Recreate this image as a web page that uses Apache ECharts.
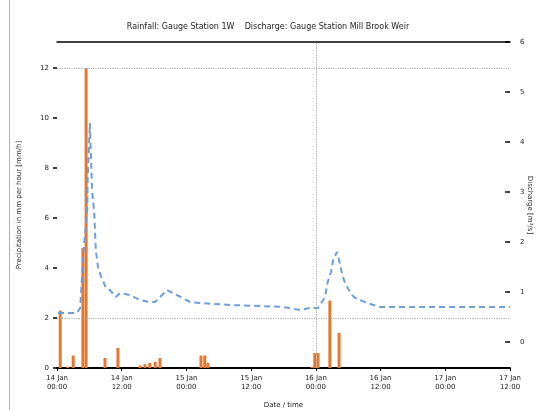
<!DOCTYPE html>
<html>
<head>
<meta charset="utf-8">
<script src="https://cdn.jsdelivr.net/npm/echarts@6/dist/echarts.min.js"></script>
<style>
  html, body { margin: 0; padding: 0; background: #fff; }
  #chart { width: 536px; height: 410px; }
</style>
</head>
<body>
<div id="chart"></div>
<script>
// x values are hours from the start of the record
const tickLabels = ['14 Jan\n00:00', '14 Jan\n12:00', '15 Jan\n00:00', '15 Jan\n12:00',
  '16 Jan\n00:00', '16 Jan\n12:00', '17 Jan\n00:00', '17 Jan\n12:00'];

// rainfall [hour, mm]
const rainHours = [0.6, 2.0, 3.0, 4.8, 5.4, 8.9, 11.3, 15.4, 16.3, 17.2, 18.2, 19.1, 26.7, 27.4, 28.0, 47.3, 47.8, 48.4, 50.6, 52.3];
const rainValues = [2.3, 0.05, 0.5, 4.8, 12.0, 0.4, 0.8, 0.1, 0.15, 0.2, 0.25, 0.4, 0.5, 0.5, 0.2, 0.05, 0.6, 0.6, 2.7, 1.4];

// discharge [hour, m3/s]
const flowHours = [0.2, 0.8, 3.7, 4.3, 4.6, 5.0, 5.6, 5.7, 6.1, 6.5, 6.9, 7.2, 7.6, 8.2, 9.1, 9.8, 10.9, 11.7, 13.5, 15.4,
  17.2, 18.2, 19.1, 20.4, 22.2, 24.7, 26.5, 32.1, 37.6, 42.0, 45.1, 46.9, 48.4, 49.7, 50.2, 50.8, 51.2, 51.9, 52.3,
  52.8, 53.2, 53.9, 54.7, 55.3, 56.2, 57.5, 59.9, 67.3, 74.7, 84.0];
const flowValues = [0.58, 0.58, 0.58, 0.68, 1.24, 1.9, 2.64, 3.3, 4.38, 3.04, 2.58, 1.84, 1.5, 1.3, 1.08, 1.04, 0.9, 0.98, 0.94, 0.84,
  0.8, 0.8, 0.9, 1.04, 0.94, 0.8, 0.78, 0.74, 0.72, 0.7, 0.64, 0.68, 0.68, 0.9, 1.2, 1.4, 1.64, 1.8, 1.64,
  1.4, 1.24, 1.08, 0.94, 0.88, 0.84, 0.78, 0.7, 0.7, 0.7, 0.7];

const rightTicks = [0, 1, 2, 3, 4, 5, 6];

const chart = echarts.init(document.getElementById('chart'));
const smallFont = { fontFamily: 'DejaVu Sans', fontSize: 7, color: '#222' };

chart.setOption({
  animation: false,
  backgroundColor: '#fff',
  title: {
    text: 'Rainfall: Gauge Station 1W    Discharge: Gauge Station Mill Brook Weir',
    left: 'center',
    top: 18,
    textStyle: { fontFamily: 'DejaVu Sans', fontSize: 8, fontWeight: 'normal', color: '#222' }
  },
  graphic: [{
    type: 'line',
    shape: { x1: 9.5, y1: 0, x2: 9.5, y2: 410 },
    style: { stroke: '#9db5d8', lineWidth: 1 }
  }, {
    // right axis title
    type: 'text',
    x: 530,
    y: 205,
    rotation: -Math.PI / 2,
    style: {
      text: 'Discharge [m³/s]',
      fontFamily: 'DejaVu Sans',
      fontSize: 7,
      fill: '#222',
      align: 'center',
      verticalAlign: 'middle'
    }
  }],
  grid: { left: 57, right: 26, top: 42, bottom: 42, outerBoundsMode: 'none', containLabel: false },
  xAxis: [{
    type: 'value',
    min: 0,
    max: 84,
    interval: 12,
    name: 'Date / time',
    nameLocation: 'middle',
    nameGap: 34,
    nameTextStyle: smallFont,
    axisLine: { lineStyle: { color: '#000', width: 2 } },
    axisTick: { show: true, length: 3, lineStyle: { color: '#000' } },
    axisLabel: Object.assign({}, smallFont, {
      lineHeight: 9,
      margin: 6,
      formatter: v => tickLabels[Math.round(v / 12)] || ''
    }),
    splitLine: { show: false }
  }, {
    type: 'value',
    position: 'top',
    min: 0,
    max: 84,
    axisLine: { show: true, onZero: false, lineStyle: { color: '#000', width: 1.5 } },
    axisTick: { show: false },
    axisLabel: { show: false },
    splitLine: { show: false }
  }],
  yAxis: [{
    type: 'value',
    min: 0,
    max: 13.04,
    interval: 2,
    name: 'Precipitation in mm per hour [mm/h]',
    nameLocation: 'middle',
    nameGap: 34,
    nameTextStyle: smallFont,
    axisLine: { show: false },
    axisTick: { show: true, length: 4, lineStyle: { color: '#000', width: 1.5 } },
    axisLabel: Object.assign({}, smallFont, { margin: 8, showMaxLabel: false }),
    splitLine: { show: false }
  }, {
    type: 'value',
    min: -0.52,
    max: 6,
    position: 'right',
    axisLine: { show: false },
    axisTick: { show: false },
    axisLabel: Object.assign({}, smallFont, { customValues: rightTicks, margin: 10 }),
    splitLine: { show: false }
  }],
  series: [{
    name: 'Rainfall',
    type: 'bar',
    yAxisIndex: 0,
    barWidth: 3,
    itemStyle: { color: '#e8772e' },
    data: rainHours.map((h, i) => [h, rainValues[i]]),
    markLine: {
      silent: true,
      symbol: 'none',
      label: { show: false },
      lineStyle: { color: '#aaa', type: 'dotted', width: 1.2 },
      data: [{ yAxis: 12 }, { yAxis: 2 }, { xAxis: 48 }]
    }
  }, {
    name: 'Discharge',
    type: 'line',
    yAxisIndex: 1,
    showSymbol: false,
    lineStyle: { color: '#6d9eda', width: 2, type: [6, 4] },
    data: flowHours.map((h, i) => [h, flowValues[i]]),
    // right axis tick marks, drawn inside the plot
    markLine: {
      silent: true,
      symbol: 'none',
      label: { show: false },
      lineStyle: { color: '#000', type: 'solid', width: 1.5 },
      data: rightTicks.map(v => [{ coord: [83.1, v] }, { coord: [84, v] }])
    }
  }]
});
</script>
</body>
</html>
